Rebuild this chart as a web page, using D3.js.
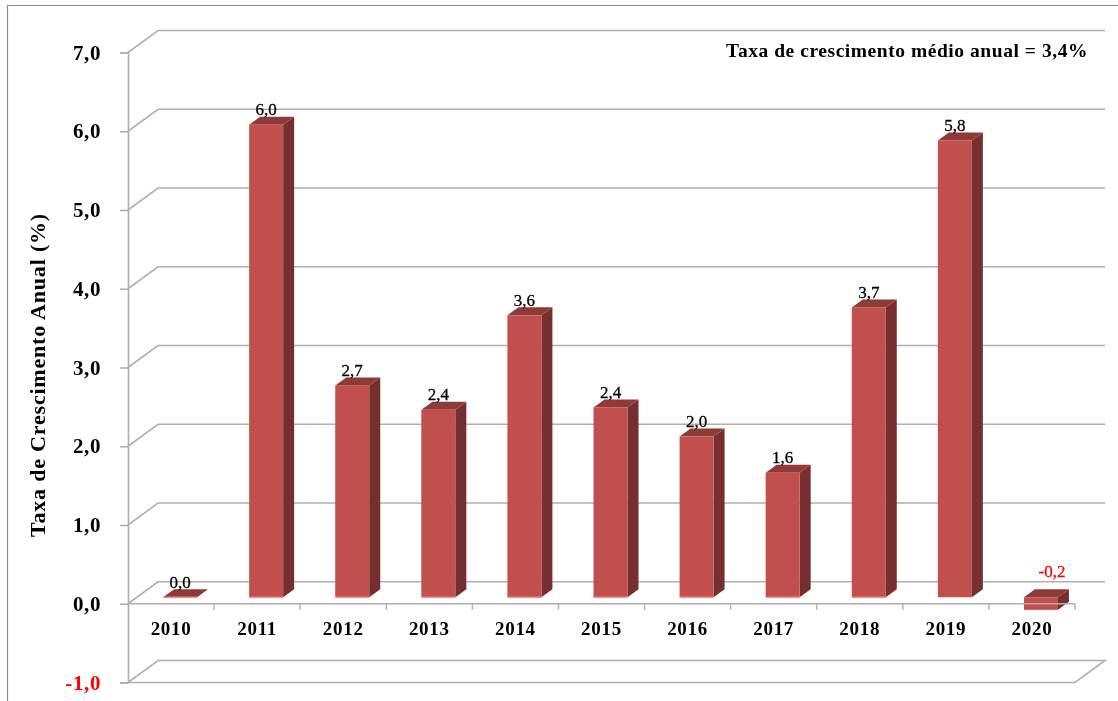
<!DOCTYPE html>
<html>
<head>
<meta charset="utf-8">
<script src="https://cdn.jsdelivr.net/npm/d3@7"></script>
<style>
  html, body { margin: 0; padding: 0; background: #fff; }
  svg { display: block; }
  text { font-family: "Liberation Serif", serif; fill: #000; }
</style>
</head>
<body>
<svg id="chart"></svg>
<script>
const colours = {
  front: '#c0504d',
  side: '#772f2d',
  top: '#8e3a38',
  edge: '#f08c88',
  grid: '#b0b0b0',
  frame: '#8c8c8c',
  negative: '#ff0000',
};

const years = ['2010', '2011', '2012', '2013', '2014', '2015', '2016', '2017', '2018', '2019', '2020'];
const growth = [0, 6.0, 2.69, 2.38, 3.58, 2.41, 2.04, 1.58, 3.68, 5.8, -0.16];
const yTicks = [-1, 0, 1, 2, 3, 4, 5, 6, 7];

const width = 1118;
const height = 701;

const svg = d3.select('#chart').attr('width', width).attr('height', height);

// the source is a slightly soft screenshot
svg.append('filter')
  .attr('id', 'soft')
  .append('feGaussianBlur')
  .attr('stdDeviation', 0.35);
const sel = svg.append('g').attr('filter', 'url(#soft)');

const comma = d3.format('.1f');
const label = v => comma(v).replace('.', ',').replace('−', '-');

const xScale = d3.scaleBand().domain(years).range([128, 1075]);
const yScale = d3.scaleLinear().domain([-1, 7]).range([682.5, 52.5]);

// oblique offset of the back wall
const depthX = 30;
const depthY = -22;
// bars stand a little way into the floor
const barInX = 9;
const barInY = -6.5;
const barW = 34;
const barDepthX = 11;
const barDepthY = -8;

// outer frame, open to the right and bottom
sel.append('path')
  .attr('d', `M7.5,${height} V5.5 H${width}`)
  .attr('fill', 'none')
  .attr('stroke', colours.frame)
  .attr('stroke-width', 1.2);

// back wall gridlines with their slanted return to the axis
const grid = sel.append('g').attr('fill', 'none').attr('stroke', colours.grid).attr('stroke-width', 1.6);
grid.selectAll('path')
  .data(yTicks)
  .join('path')
  .attr('d', d => {
    const y = yScale(d);
    const [x0, x1] = xScale.range();
    const wall = `M${x0},${y} L${x0 + depthX},${y + depthY} H${x1 + depthX}`;
    return d === -1 ? `${wall} L${x1},${y} Z` : wall;
  });

// y axis, the library draws ticks and labels
const yAxis = d3.axisLeft(yScale)
  .tickValues(yTicks)
  .tickSize(8)
  .tickPadding(19)
  .tickFormat(d => label(d));
const yAxisG = sel.append('g')
  .attr('transform', `translate(${xScale.range()[0]},0)`)
  .call(yAxis);
yAxisG.select('.domain').attr('stroke', colours.grid).attr('stroke-width', 1.6);
yAxisG.selectAll('.tick line').attr('stroke', colours.grid).attr('stroke-width', 1.6);
yAxisG.selectAll('.tick text')
  .attr('font-size', 21)
  .attr('font-family', '"Liberation Serif", serif')
  .attr('font-weight', 'bold')
  .attr('letter-spacing', 0.6)
  .style('fill', d => (d < 0 ? colours.negative : '#000'));

// bars
const barFront = (d, i) => xScale(years[i]) + (xScale.bandwidth() - barW) / 2 + barInX;
const barBase = yScale(0) + barInY;
const barTop = d => barBase - (yScale(0) - yScale(Math.max(d, 0)));
const barBottom = d => barBase + (yScale(Math.min(d, 0)) - yScale(0));

const bars = sel.append('g').selectAll('g').data(growth).join('g');
bars.append('path')
  .attr('fill', colours.side)
  .attr('d', (d, i) => {
    const x = barFront(d, i) + barW;
    return `M${x},${barTop(d)} l${barDepthX},${barDepthY} V${barBottom(d) + barDepthY} l${-barDepthX},${-barDepthY} Z`;
  });
bars.append('path')
  .attr('fill', colours.top)
  .attr('d', (d, i) => {
    const x = barFront(d, i);
    return `M${x},${barTop(d)} l${barDepthX},${barDepthY} h${barW} l${-barDepthX},${-barDepthY} Z`;
  });
bars.append('rect')
  .attr('x', barFront)
  .attr('y', d => barTop(d))
  .attr('width', barW)
  .attr('height', d => barBottom(d) - barTop(d))
  .attr('fill', colours.front);
bars.filter(d => d > 0).append('line')
  .attr('x1', barFront)
  .attr('x2', (d, i) => barFront(d, i) + barW)
  .attr('y1', barBase)
  .attr('y2', barBase)
  .attr('stroke', colours.edge)
  .attr('stroke-width', 1.5);

// front edge of the zero plane, drawn over the negative bar
const [frontL, frontR] = xScale.range();
const zeroY = yScale(0);
sel.append('line')
  .attr('x1', frontL).attr('x2', frontR)
  .attr('y1', zeroY).attr('y2', zeroY)
  .attr('stroke', colours.grid).attr('stroke-width', 1.6);
sel.append('g').selectAll('line')
  .data(years)
  .join('line')
  .attr('x1', d => xScale(d) + xScale.bandwidth())
  .attr('x2', d => xScale(d) + xScale.bandwidth())
  .attr('y1', zeroY)
  .attr('y2', zeroY + 6)
  .attr('stroke', colours.grid)
  .attr('stroke-width', 1.4);

// category labels
sel.append('g').selectAll('text')
  .data(years)
  .join('text')
  .attr('x', d => xScale(d) + xScale.bandwidth() / 2)
  .attr('y', 635)
  .attr('text-anchor', 'middle')
  .attr('font-size', 19)
  .attr('letter-spacing', 0.7)
  .attr('font-weight', 'bold')
  .text(d => d);

// value labels
sel.append('g').selectAll('text')
  .data(growth)
  .join('text')
  .attr('x', (d, i) => barFront(d, i) + barW / 2 + (d < 0 ? barDepthX : 0))
  .attr('y', d => (d < 0 ? barBase + barDepthY - 12 : barTop(d) + barDepthY - 1.5))
  .attr('text-anchor', 'middle')
  .attr('font-size', 17)
  .attr('stroke', d => (d < 0 ? colours.negative : '#000'))
  .attr('stroke-width', 0.3)
  .style('fill', d => (d < 0 ? colours.negative : '#000'))
  .text(d => label(d));

// axis title
sel.append('text')
  .attr('transform', 'translate(45,375) rotate(-90)')
  .attr('text-anchor', 'middle')
  .attr('font-size', 22)
  .attr('letter-spacing', 0.8)
  .attr('font-weight', 'bold')
  .text('Taxa de Crescimento Anual (%)');

// average growth note
sel.append('text')
  .attr('x', 1088)
  .attr('y', 57)
  .attr('text-anchor', 'end')
  .attr('font-size', 19.5)
  .attr('letter-spacing', 0.55)
  .attr('font-weight', 'bold')
  .text('Taxa de crescimento médio anual = 3,4%');
</script>
</body>
</html>
